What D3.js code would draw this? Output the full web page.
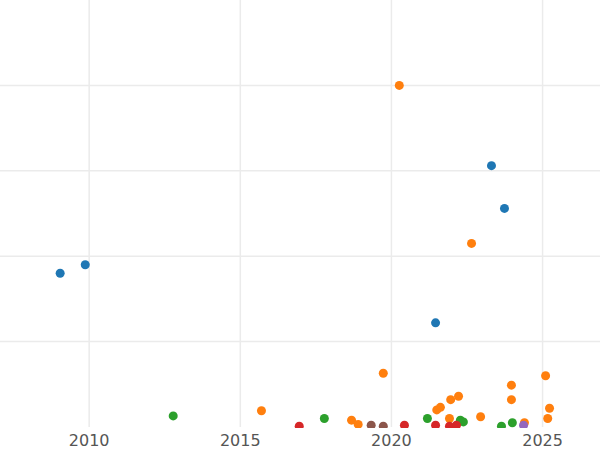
<!DOCTYPE html>
<html lang="en">
  <head>
    <meta charset="UTF-8" />
    <script src="https://cdn.jsdelivr.net/npm/d3@7"></script>
    <style>
      body { margin: 0; background: #fff; }
      text { font: 16px "DejaVu Sans", sans-serif; fill: #555; }
    </style>
  </head>
  <body>
    <svg width="600" height="450"></svg>
    <script>
      const series = ["blue", "orange", "green", "red", "brown", "purple"];
      const colors = ["#1f77b4", "#ff7f0e", "#2ca02c", "#d62728", "#8c564b", "#9467bd"];
      const years = [
        [2009.04, 2009.87, 2021.46, 2023.31, 2023.74],
        [2020.26, 2022.65, 2019.73, 2015.7, 2018.68, 2018.9, 2021.5, 2021.62, 2021.96, 2022.22, 2021.92, 2022.95, 2023.97, 2023.97, 2025.1, 2025.23, 2025.17, 2024.4],
        [2012.78, 2017.78, 2021.19, 2022.28, 2022.38, 2023.64, 2024.0],
        [2016.95, 2020.43, 2021.46, 2021.92, 2022.15],
        [2019.33, 2019.73],
        [2024.37]
      ];
      const values = [
        [1.8, 1.9, 1.22, 3.06, 2.56],
        [4.0, 2.15, 0.63, 0.19, 0.08, 0.03, 0.2, 0.23, 0.32, 0.36, 0.1, 0.12, 0.49, 0.32, 0.6, 0.22, 0.1, 0.05],
        [0.13, 0.1, 0.1, 0.08, 0.06, 0.01, 0.05],
        [0.01, 0.02, 0.02, 0.01, 0.02],
        [0.02, 0.01],
        [0.02]
      ];
      const xTicks = [2010, 2015, 2020, 2025];
      const yGrid = [1, 2, 3, 4];

      const svg = d3.select("svg");
      const x = d3.scaleLinear().domain([2007.05, 2026.9]).range([0, 600]);
      const y = d3.scaleLinear().domain([0, 5]).range([427, 0]);

      svg.append("defs").append("clipPath").attr("id", "clip")
        .append("rect").attr("width", 600).attr("height", 428);

      svg.append("g").selectAll("line").data(xTicks).enter().append("line")
        .attr("x1", d => x(d)).attr("x2", d => x(d))
        .attr("y1", 0).attr("y2", 427)
        .attr("stroke", "#ebebeb").attr("stroke-width", 1.5);
      svg.append("g").selectAll("line").data(yGrid).enter().append("line")
        .attr("x1", 0).attr("x2", 600)
        .attr("y1", d => y(d)).attr("y2", d => y(d))
        .attr("stroke", "#ebebeb").attr("stroke-width", 1.5);

      svg.append("g").selectAll("text").data(xTicks).enter().append("text")
        .attr("x", d => x(d)).attr("y", 446)
        .attr("text-anchor", "middle").text(d => d);

      const pts = [];
      series.forEach((s, i) => years[i].forEach((yr, j) =>
        pts.push({ yr, v: values[i][j], c: colors[i] })));

      svg.append("g").attr("clip-path", "url(#clip)")
        .selectAll("circle").data(pts).enter().append("circle")
        .attr("cx", d => x(d.yr)).attr("cy", d => y(d.v))
        .attr("r", 4.5).attr("fill", d => d.c);
    </script>
  </body>
</html>
